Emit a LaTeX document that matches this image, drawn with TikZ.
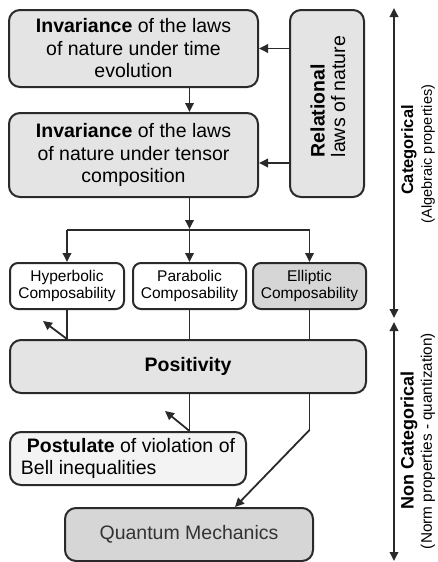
\documentclass[tikz,border=0pt]{standalone}
\usepackage{fontspec}
\setmainfont{Liberation Sans}
\usetikzlibrary{arrows.meta,calc}
\definecolor{bord}{HTML}{2A2A2A}
\definecolor{fillA}{HTML}{E4E4E4}
\definecolor{fillB}{HTML}{D6D6D6}
\definecolor{fillC}{HTML}{F3F3F3}
\definecolor{qmtext}{HTML}{333333}
\tikzset{
  box/.style={draw=bord, line width=2pt, rounded corners=11pt, fill=fillA, inner sep=0pt, align=center,
    font=\fontsize{19.5}{22.5}\selectfont},
  smallbox/.style={box, rounded corners=8pt, fill=white, font=\fontsize{15.5}{17}\selectfont},
  conn/.style={draw=bord, line width=1.8pt},
  arr/.style={conn, -{Triangle[length=9pt,width=8.5pt]}},
  darr/.style={conn, {Triangle[length=9pt,width=8.5pt]}-{Triangle[length=9pt,width=8.5pt]}},
}
\begin{document}
\begin{tikzpicture}[x=1pt,y=-1pt]
\useasboundingbox (0,0) rectangle (438,562);
% main boxes
\node[box, minimum width=249pt, minimum height=77pt] (inv1) at (133.5,48.5)
  {\textbf{Invariance} of the laws\\of nature under time\\evolution};
\node[box, minimum width=249pt, minimum height=84pt] (inv2) at (133.5,155)
  {\textbf{Invariance} of the laws\\of nature under tensor\\composition};
\node[box, minimum width=74pt, minimum height=187pt] (rel) at (327,103.5) {};
\node[rotate=90, align=left, inner sep=0pt, font=\fontsize{19.5}{20.5}\selectfont] (reltext) at (328,96.5)
  {\textbf{Relational}\\laws of nature};
\node[smallbox, minimum width=114pt, minimum height=46pt] (hyp) at (67,286) {Hyperbolic\\Composability};
\node[smallbox, minimum width=113pt, minimum height=46pt] (par) at (189.5,286) {Parabolic\\Composability};
\node[smallbox, fill=fillB, minimum width=113pt, minimum height=46pt] (ell) at (309.5,286) {Elliptic\\Composability};
\node[box, minimum width=356pt, minimum height=53pt] (pos) at (188,366.5) {\textbf{Positivity}};
\node[box, fill=fillC, align=left, minimum width=236pt, minimum height=53pt] (post) at (128,458.5)
  {\hspace*{6pt}\textbf{Postulate} of violation of\\Bell inequalities\hspace*{70pt}};
\node[box, fill=fillB, text=qmtext, minimum width=248pt, minimum height=53pt] (qm) at (189,534.5) {Quantum Mechanics};
% connectors
\draw[arr] (rel.west |- inv1.east) -- (inv1.east);
\draw[arr] ($(rel.west |- inv2.east)+(0,8)$) -- ($(inv2.east)+(0,8)$);
\draw[arr] (inv1.south -| par) -- (inv2.north -| par);
\coordinate (jn) at (189.5,230);
\coordinate (jl) at (67,230);
\coordinate (jr) at (309.5,230);
\draw[arr] (inv2.south -| par) -- ($(jn)+(0,-1)$);
\draw[conn] (jl) -- (jr);
\draw[arr] (jl) -- (hyp.north);
\draw[arr] (jn) -- (par.north);
\draw[arr] (jr) -- (ell.north);
\draw[conn] (hyp.south) -- (pos.north -| hyp);
\draw[conn] (par.south) -- (pos.north -| par);
\draw[conn] (ell.south) -- (pos.north -| ell);
\coordinate (h1) at (43,321);
\draw[arr] (pos.north -| hyp) -- (h1);
\draw[conn] (pos.south -| par) -- (post.north -| par);
\coordinate (p1) at (165,411);
\draw[arr] (post.north -| par) -- (p1);
\coordinate (k) at (309.5,430);
\draw[conn] (pos.south -| ell) -- (k);
\draw[arr] (k) -- ($(qm.north)+(46,0)$);
% right axis
\coordinate (a1) at (394,8);
\coordinate (a2) at (394,318);
\coordinate (a3) at (394,322);
\coordinate (a4) at (394,561);
\draw[darr] (a1) -- (a2);
\draw[darr] (a3) -- (a4);
\node[rotate=90, inner sep=0pt] (cat) at (409,150) {\fontsize{16.5}{17}\selectfont\textbf{Categorical}};
\node[rotate=90, inner sep=0pt] (alg) at (428,154) {\fontsize{14.5}{15}\selectfont(Algebraic properties)};
\node[rotate=90, inner sep=0pt] (ncat) at (409,440) {\fontsize{18}{19}\selectfont\textbf{Non Categorical}};
\node[rotate=90, inner sep=0pt] (norm) at (428,441) {\fontsize{15.3}{16}\selectfont(Norm properties - quantization)};
\end{tikzpicture}
\end{document}
